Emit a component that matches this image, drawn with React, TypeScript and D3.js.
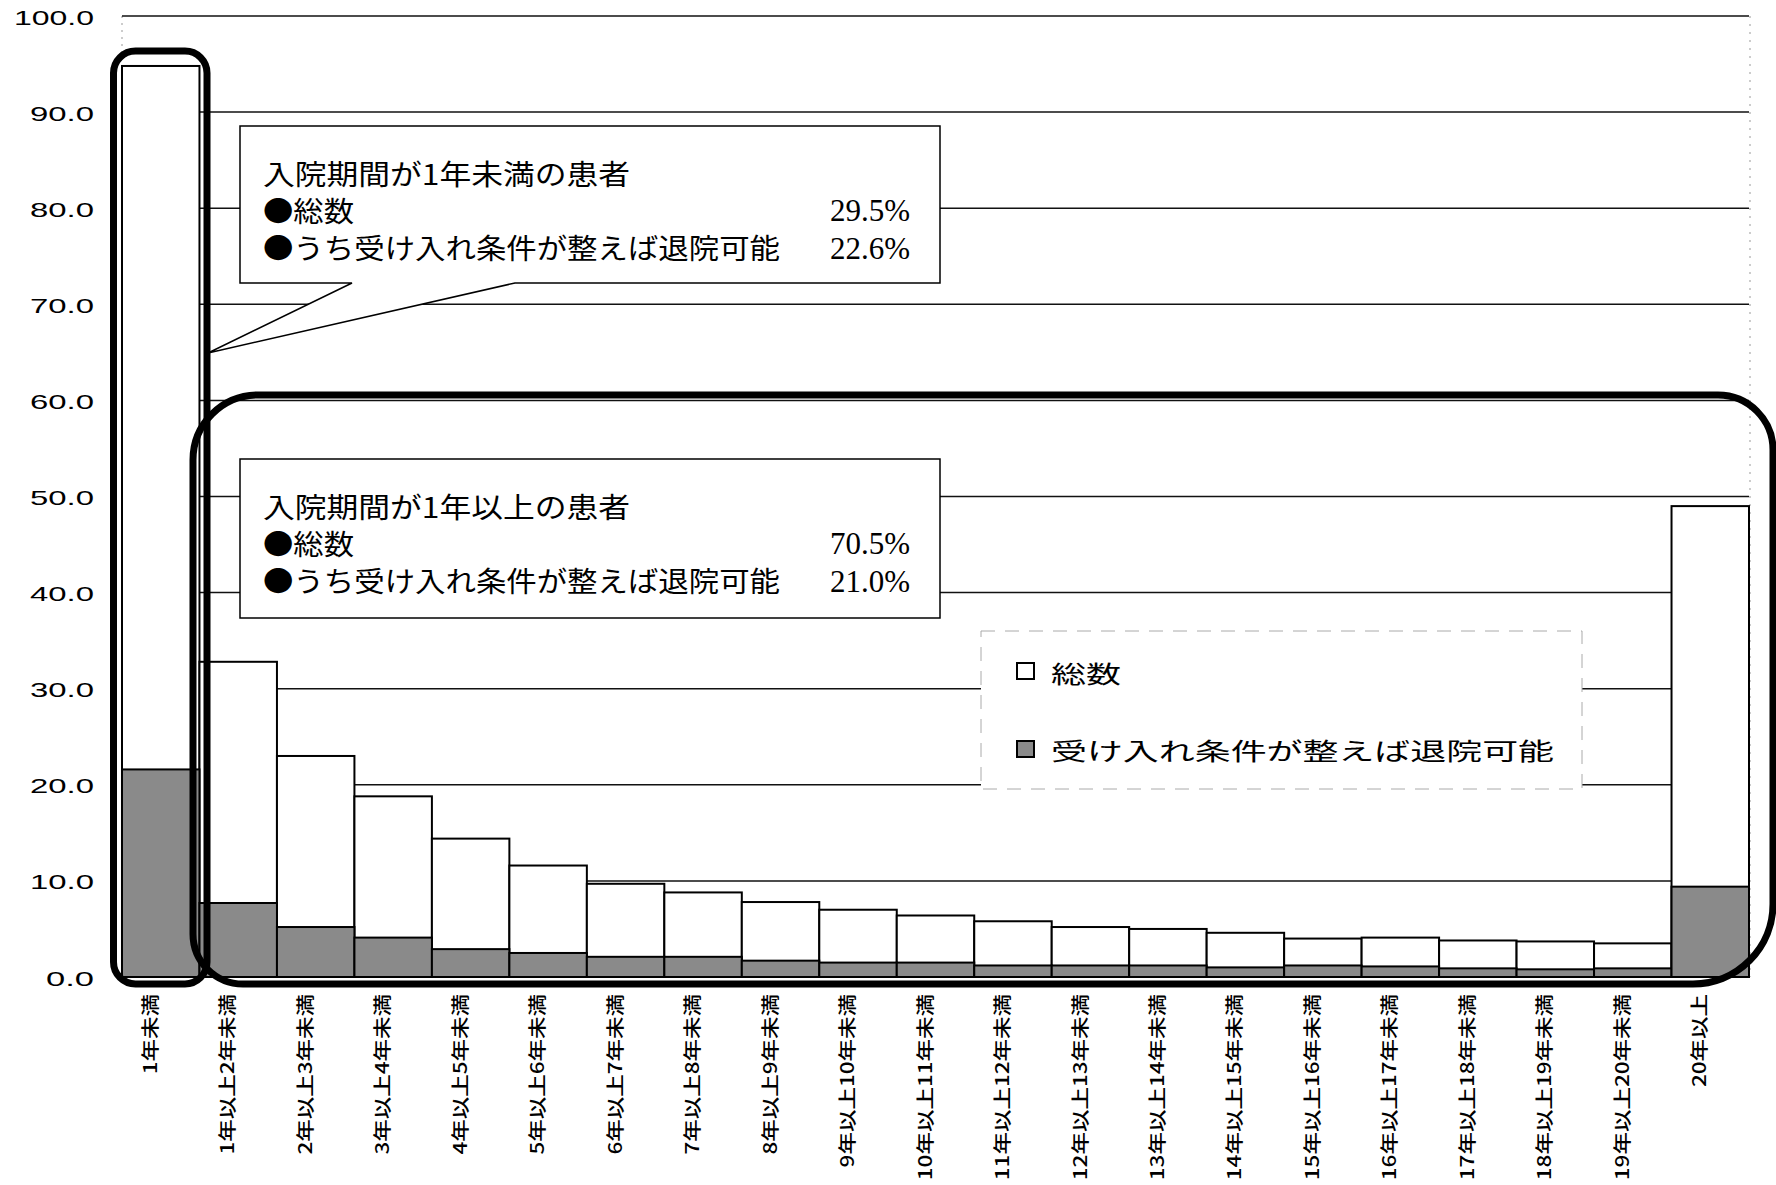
import React from "react";
import * as d3 from "d3";

const categories = [
  "1年未満",
  "1年以上2年未満",
  "2年以上3年未満",
  "3年以上4年未満",
  "4年以上5年未満",
  "5年以上6年未満",
  "6年以上7年未満",
  "7年以上8年未満",
  "8年以上9年未満",
  "9年以上10年未満",
  "10年以上11年未満",
  "11年以上12年未満",
  "12年以上13年未満",
  "13年以上14年未満",
  "14年以上15年未満",
  "15年以上16年未満",
  "16年以上17年未満",
  "17年以上18年未満",
  "18年以上19年未満",
  "19年以上20年未満",
  "20年以上",
];

const totalValues = [94.8, 32.8, 23.0, 18.8, 14.4, 11.6, 9.7, 8.8, 7.8, 7.0, 6.4, 5.8, 5.2, 5.0, 4.6, 4.0, 4.1, 3.8, 3.7, 3.5, 49.0];
const dischargeValues = [21.6, 7.7, 5.2, 4.1, 2.9, 2.5, 2.1, 2.1, 1.7, 1.5, 1.5, 1.2, 1.2, 1.2, 1.0, 1.2, 1.1, 0.9, 0.8, 0.9, 9.4];

const yTicks = [0, 10, 20, 30, 40, 50, 60, 70, 80, 90, 100];

const legendLabels = ["総数", "受け入れ条件が整えば退院可能"];

const box1Lines = ["入院期間が1年未満の患者", "●総数", "●うち受け入れ条件が整えば退院可能"];
const box1Values = ["", "29.5%", "22.6%"];
const box2Lines = ["入院期間が1年以上の患者", "●総数", "●うち受け入れ条件が整えば退院可能"];
const box2Values = ["", "70.5%", "21.0%"];

const W = 1776;
const H = 1185;
const CJK = "'Noto Sans CJK JP', 'Noto Sans CJK SC', sans-serif";
const GRAY = "#8a8a8a";

export default function App() {
  const x = d3.scaleBand<string>().domain(categories).range([122, 1749]).padding(0);
  const y = d3.scaleLinear().domain([0, 100]).range([977, 16]);
  const bw = x.bandwidth();
  const left = x.range()[0];
  const right = x.range()[1];

  const lineLens = [367, 91, 517];
  const lineOffsets = [47, 83.5, 121];

  const renderBox = (top: number, lines: string[], values: string[]) =>
    lines.map((t, i) => (
      <g key={i}>
        <text
          x={263}
          y={top + lineOffsets[i]}
          dominantBaseline="central"
          fontFamily={CJK}
          fontSize={28}
          textLength={lineLens[i]}
          lengthAdjust="spacingAndGlyphs"
          fill="#000"
        >
          {t}
        </text>
        {values[i] && (
          <text
            x={910}
            y={top + lineOffsets[i] + 1}
            dominantBaseline="central"
            textAnchor="end"
            fontFamily="'Liberation Serif', serif"
            fontSize={31}
            fill="#000"
          >
            {values[i]}
          </text>
        )}
      </g>
    ));

  const r2 = { l: 193, t: 395, r: 1773, b: 984, tl: 65, tr: 55, br: 80, bl: 50 };
  const rect2Path = `M${r2.l + r2.tl},${r2.t} H${r2.r - r2.tr} A${r2.tr},${r2.tr} 0 0 1 ${r2.r},${r2.t + r2.tr} V${r2.b - r2.br} A${r2.br},${r2.br} 0 0 1 ${r2.r - r2.br},${r2.b} H${r2.l + r2.bl} A${r2.bl},${r2.bl} 0 0 1 ${r2.l},${r2.b - r2.bl} V${r2.t + r2.tl} A${r2.tl},${r2.tl} 0 0 1 ${r2.l + r2.tl},${r2.t} Z`;

  return (
    <svg
      width={W}
      height={H}
      style={{ position: "absolute", left: 0, top: 0, background: "#fff" }}
    >
      <rect x={0} y={0} width={W} height={H} fill="#fff" />

      {/* faint plot borders */}
      <line x1={left} x2={left} y1={y(100)} y2={y(0)} stroke="#999" strokeWidth={1} strokeDasharray="2,5" />
      <line x1={right + 1} x2={right + 1} y1={y(100)} y2={y(0)} stroke="#999" strokeWidth={1} strokeDasharray="2,6" />

      {/* gridlines */}
      {yTicks
        .filter((v) => v > 0)
        .map((v) => (
          <line key={v} x1={left} x2={right} y1={y(v)} y2={y(v)} stroke="#111" strokeWidth={1.5} />
        ))}

      {/* total bars */}
      {categories.map((c, i) => (
        <rect
          key={"t" + i}
          x={x(c)}
          y={y(totalValues[i])}
          width={bw}
          height={y(0) - y(totalValues[i])}
          fill="#fff"
          stroke="#000"
          strokeWidth={2}
        />
      ))}
      {/* discharge-possible bars */}
      {categories.map((c, i) => (
        <rect
          key={"d" + i}
          x={x(c)}
          y={y(dischargeValues[i])}
          width={bw}
          height={y(0) - y(dischargeValues[i])}
          fill={GRAY}
          stroke="#000"
          strokeWidth={2}
        />
      ))}

      {/* x axis line */}
      <line x1={left} x2={right} y1={y(0)} y2={y(0)} stroke="#000" strokeWidth={1.5} />

      {/* y labels */}
      {yTicks.map((v) => {
        const s = v.toFixed(1);
        return (
          <text
            key={v}
            x={94}
            y={y(v) + 1}
            textAnchor="end"
            dominantBaseline="central"
            fontFamily="'Liberation Sans', Arial, sans-serif"
            fontSize={21}
            textLength={s.length * 16}
            lengthAdjust="spacingAndGlyphs"
            fill="#000"
          >
            {s}
          </text>
        );
      })}

      {/* x labels */}
      {categories.map((c) => {
        const cx = (x(c) as number) + bw / 2 - 12;
        return (
          <text
            key={c}
            transform={`translate(${cx},994) rotate(-90) scale(1,0.82)`}
            textAnchor="end"
            dominantBaseline="central"
            fontFamily={CJK}
            fontSize={22.5}
            fontWeight={500}
            fill="#000"
          >
            {c}
          </text>
        );
      })}

      {/* callout 1 */}
      <path
        d="M240,126 H940 V283 H515 L208,353 L352,283 H240 Z"
        fill="#fff"
        stroke="#000"
        strokeWidth={1.5}
      />
      {renderBox(126, box1Lines, box1Values)}

      {/* callout 2 */}
      <rect x={240} y={459} width={700} height={159} fill="#fff" stroke="#000" strokeWidth={1.5} />
      {renderBox(459, box2Lines, box2Values)}

      {/* legend */}
      <rect
        x={981}
        y={631}
        width={601}
        height={158}
        fill="#fff"
        stroke="#aaa"
        strokeWidth={1}
        strokeDasharray="14,10"
      />
      <rect x={1017} y={663} width={17} height={16} fill="#fff" stroke="#000" strokeWidth={2} />
      <text
        x={1051}
        y={672}
        dominantBaseline="central"
        fontFamily={CJK}
        fontSize={24}
        textLength={70}
        lengthAdjust="spacingAndGlyphs"
      >
        {legendLabels[0]}
      </text>
      <rect x={1017} y={741} width={17} height={16} fill={GRAY} stroke="#000" strokeWidth={2} />
      <text
        x={1051}
        y={749}
        dominantBaseline="central"
        fontFamily={CJK}
        fontSize={24}
        textLength={503}
        lengthAdjust="spacingAndGlyphs"
      >
        {legendLabels[1]}
      </text>

      {/* highlight rounded rectangles */}
      <rect x={113.5} y={51} width={93.5} height={933} rx={22} ry={22} fill="none" stroke="#000" strokeWidth={7} />
      <path d={rect2Path} fill="none" stroke="#000" strokeWidth={7} />
    </svg>
  );
}
